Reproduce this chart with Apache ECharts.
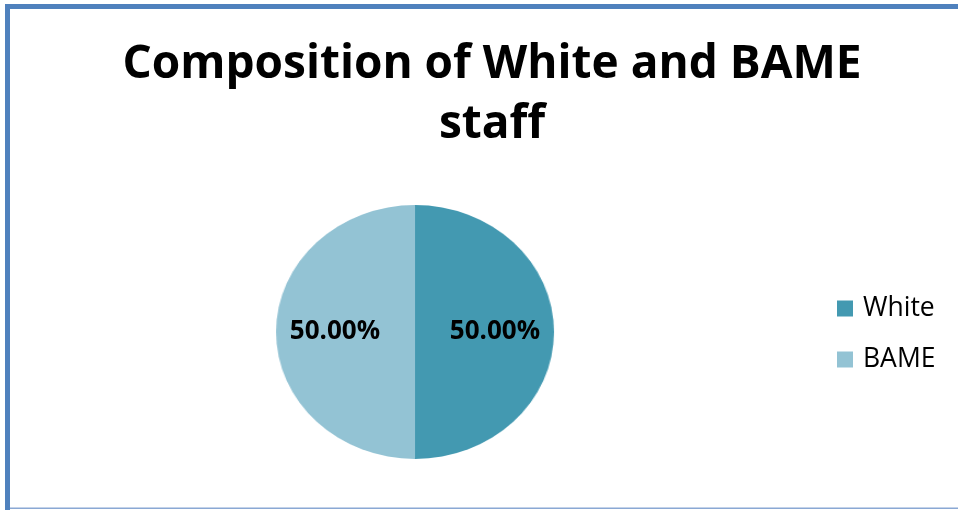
<!DOCTYPE html>
<html>
<head>
<meta charset="utf-8">
<script src="https://cdn.jsdelivr.net/npm/echarts@6/dist/echarts.min.js"></script>
<style>
  html, body { margin: 0; padding: 0; background: #fff; }
  #wrap { position: relative; width: 958px; height: 510px; overflow: hidden; }
  #pieLayer, #topLayer { position: absolute; left: 0; top: 0; width: 958px; height: 510px; }
  /* the pie is drawn slightly wider than tall, as an ellipse */
  #pieLayer { transform: scaleX(1.0945); transform-origin: 415px 332px; }
</style>
</head>
<body>
<div id="wrap">
  <div id="pieLayer"></div>
  <div id="topLayer"></div>
</div>
<script>
// Chart data
const titleText = 'Composition of White and BAME\nstaff';
const categories = ['White', 'BAME'];
const shares = [50.0, 50.0];
const colors = ['#4399b1', '#93c3d4'];

const FONT = '"Open Sans", "DejaVu Sans", sans-serif';

const pieData = categories.map((name, i) => ({
  name: name,
  value: shares[i],
  itemStyle: { color: colors[i] }
}));

// Coloured pie (stretched horizontally by its container)
const pieChart = echarts.init(document.getElementById('pieLayer'));
pieChart.setOption({
  animation: false,
  series: [{
    type: 'pie',
    center: [415, 332],
    radius: 127,
    startAngle: 90,
    clockwise: true,
    label: { show: false },
    labelLine: { show: false },
    itemStyle: { borderWidth: 0 },
    data: pieData
  }]
});

// Title, legend, value labels and frame
const topChart = echarts.init(document.getElementById('topLayer'));
topChart.setOption({
  animation: false,
  backgroundColor: 'transparent',
  title: {
    text: titleText,
    left: 487,
    top: 30,
    textAlign: 'center',
    textStyle: {
      fontFamily: FONT,
      fontSize: 46,
      fontWeight: 'bold',
      color: '#000',
      lineHeight: 60
    }
  },
  legend: {
    orient: 'vertical',
    left: 837,
    top: 295,
    padding: 0,
    itemWidth: 16,
    itemHeight: 16,
    itemGap: 24,
    icon: 'rect',
    textStyle: { fontFamily: FONT, fontSize: 26.5, color: '#000', padding: [0, 0, 0, 5] },
    data: categories.map((name, i) => ({
      name: name,
      itemStyle: { color: colors[i], opacity: 1 }
    }))
  },
  series: [{
    type: 'pie',
    center: [415, 332],
    radius: 154,
    startAngle: 90,
    clockwise: true,
    silent: true,
    itemStyle: { color: 'rgba(0,0,0,0)', opacity: 0 },
    label: {
      show: true,
      position: 'inside',
      formatter: p => p.value.toFixed(2) + '%',
      fontFamily: FONT,
      fontSize: 26,
      fontWeight: 'bold',
      color: '#000'
    },
    labelLine: { show: false },
    data: categories.map((name, i) => ({
      name: name,
      value: shares[i],
      itemStyle: { color: colors[i], opacity: 0 },
      label: { opacity: 1 }
    }))
  }],
  graphic: [
    { type: 'rect', shape: { x: 5, y: 4, width: 960, height: 5 }, style: { fill: '#4f81bd' }, silent: true },
    { type: 'rect', shape: { x: 5, y: 4, width: 5, height: 506 }, style: { fill: '#4f81bd' }, silent: true },
    { type: 'rect', shape: { x: 10, y: 507.5, width: 960, height: 1.5 }, style: { fill: '#8aa8d4' }, silent: true }
  ]
});
</script>
</body>
</html>
